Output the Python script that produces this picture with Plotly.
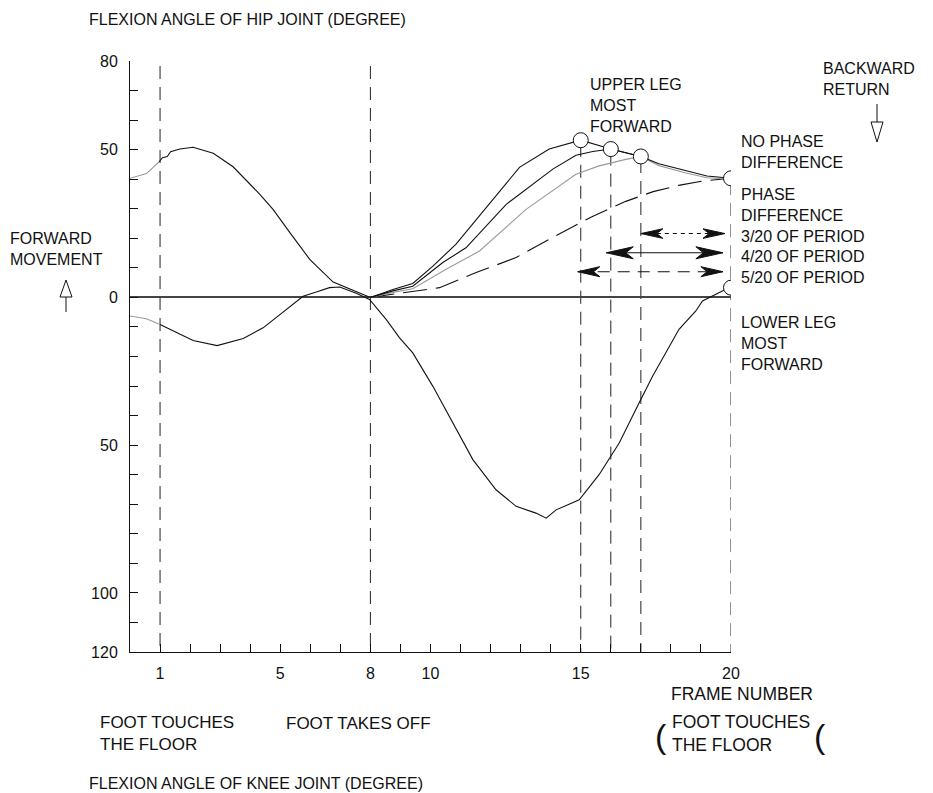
import plotly.graph_objects as go

# ---------------- data (frame number, flexion angle in degrees; knee drawn negative) -------------
hip_lead_frames = [0, 0.55, 0.97]
hip_lead_angle = [40.3, 41.9, 45.9]
hip_frames = [0.97, 1.08, 1.24, 1.35, 1.66, 2.10, 2.77, 3.43, 4.32, 4.76, 5.32, 5.98, 6.76, 7.31, 8.0]
hip_angle = [45.9, 47.3, 47.7, 49.3, 50.2, 50.8, 48.8, 44.2, 34.9, 29.8, 21.9, 12.9, 5.2, 2.9, 0.0]

swing5_frames = [8, 8.75, 9.41, 10.08, 10.85, 12.07, 12.96, 13.95, 14.73, 15, 16, 17, 17.6, 18.5, 19.2, 20]
swing5_angle = [0, 2.7, 4.7, 10.6, 18.0, 33.2, 44.0, 50.2, 52.4, 53.2, 50.2, 47.7, 45.2, 42.8, 41.1, 40.3]
swing4_frames = [8, 8.75, 9.41, 10.41, 11.18, 12.52, 14.07, 14.84, 15.4, 16, 17]
swing4_angle = [0, 2.2, 3.8, 11.8, 16.8, 31.5, 43.4, 48.1, 49.4, 50.2, 47.7]
swing3_frames = [8, 8.75, 9.41, 10.52, 11.63, 13.18, 14.84, 15.61, 16.5, 17, 17.6, 18.5, 19.2, 20]
swing3_angle = [0, 1.7, 2.9, 9.5, 15.7, 29.8, 41.7, 44.5, 46.7, 47.7, 44.6, 42.1, 40.5, 40.0]
swing0_frames = [8, 9.0, 10.3, 11.52, 12.85, 13.95, 15.39, 16.5, 17.41, 18.3, 19.07, 20]
swing0_angle = [0, 1.5, 3.3, 8.4, 13.5, 19.7, 27.4, 32.5, 35.8, 38.0, 39.4, 40.3]

knee_lead_frames = [0, 0.55, 1.0]
knee_lead_angle = [-6.3, -7.2, -9.2]
knee_frames = [1.0, 2.1, 2.9, 3.77, 4.43, 4.98, 5.76, 6.2, 6.64, 6.98, 7.53, 7.97, 8.53, 8.97,
               9.41, 10.08, 10.63, 11.41, 12.18, 12.85, 13.51, 13.85, 14.18, 14.95, 15.61,
               16.28, 16.94, 17.39, 18.27, 18.83, 19.05, 19.93]
knee_angle = [-9.2, -14.6, -16.3, -13.9, -10.3, -5.8, 0.4, 1.8, 3.3, 3.5, 1.4, -0.7, -7.5, -13.7,
              -18.8, -30.1, -40.2, -54.9, -65.1, -70.7, -73.0, -74.7, -71.9, -68.5, -60.0,
              -49.3, -35.7, -26.7, -10.8, -4.6, -1.2, 3.3]

peak_frames = [15, 16, 17, 20, 20]
peak_angle = [53.2, 50.2, 47.7, 40.3, 3.3]

event_frames = [1, 8]
phase_frames = [15, 16, 17, 20]
phase_line_top = [52.0, 49.0, 46.5, 39.0]

arrow_left = [17.0, 15.85, 14.9]
arrow_right = [19.8, 19.73, 19.73]
arrow_level = [21.6, 15.1, 8.7]

y_tickvals = [80, 50, 0, -50, -100, -120]
y_ticktext = ["80", "50", "0", "50", "100", "120"]
x_tickvals = [1, 5, 8, 10, 15, 20]
x_ticktext = ["1", "5", "8", "10", "15", "20"]

# ---------------- layout geometry ----------------
OFF = 8                      # page body margin of the browser
W, H = 933 - OFF, 793 - OFF
L, T = 130 - OFF, 61 - OFF
PW, PH = 601, 591
R, B = W - L - PW, H - T - PH


def px(x):
    return (x - OFF - L) / PW


def py(y):
    return (T + PH - (y - OFF)) / PH


BLACK = "#111111"
GRAY = "#9a9a9a"
FONT = "Liberation Sans, Arial, sans-serif"

fig = go.Figure()

def line(x, y, color=BLACK, dash=None, width=1.1):
    fig.add_trace(go.Scatter(x=x, y=y, mode="lines", hoverinfo="skip",
                             line=dict(color=color, width=width, dash=dash)))

line(hip_lead_frames, hip_lead_angle, GRAY)
line(hip_frames, hip_angle)
line(knee_lead_frames, knee_lead_angle, GRAY)
line(knee_frames, knee_angle)
line(swing0_frames, swing0_angle, BLACK, "24px,9px")
line(swing3_frames, swing3_angle, GRAY)
line(swing4_frames, swing4_angle)
line(swing5_frames, swing5_angle)

fig.add_trace(go.Scatter(x=peak_frames, y=peak_angle, mode="markers", hoverinfo="skip",
                         marker=dict(size=15, color="white", line=dict(color=BLACK, width=1))))

shapes = []
for f in event_frames:
    shapes.append(dict(type="line", xref="x", yref="y", x0=f, x1=f, y0=78.3, y1=-120,
                       line=dict(color="#222", width=1, dash="13px,8px"), layer="below"))
for f, top in zip(phase_frames, phase_line_top):
    shapes.append(dict(type="line", xref="x", yref="y", x0=f, x1=f, y0=top, y1=-120,
                       line=dict(color="#222", width=1, dash="13px,8px"), layer="below"))

arrow_dash = ["4px,4px", "solid", "12px,8px"]
head_len = [22, 27, 22]
head_w = [4.8, 6, 5]
for xl, xr, lv, d, hl, hw in zip(arrow_left, arrow_right, arrow_level, arrow_dash, head_len, head_w):
    shapes.append(dict(type="line", xref="x", yref="y", x0=xl, x1=xr, y0=lv, y1=lv,
                       line=dict(color=BLACK, width=1.1, dash=d)))
    shapes.append(dict(type="path", xref="x", yref="y", xsizemode="pixel", ysizemode="pixel",
                       xanchor=xl, yanchor=lv,
                       path=f"M0,0 L{hl},{hw} L{hl*0.72},0 L{hl},{-hw} Z",
                       fillcolor=BLACK, line=dict(color=BLACK, width=1)))
    shapes.append(dict(type="path", xref="x", yref="y", xsizemode="pixel", ysizemode="pixel",
                       xanchor=xr, yanchor=lv,
                       path=f"M0,0 L{-hl},{hw} L{-hl*0.72},0 L{-hl},{-hw} Z",
                       fillcolor=BLACK, line=dict(color=BLACK, width=1)))

# hollow direction arrows
shapes.append(dict(type="path", xref="paper", yref="paper", xsizemode="pixel", ysizemode="pixel",
                   xanchor=px(66), yanchor=py(297),
                   path="M-6,0 L6,0 L0,17 Z M0,0 L0,-15",
                   fillcolor="rgba(0,0,0,0)", line=dict(color=BLACK, width=1)))
shapes.append(dict(type="path", xref="paper", yref="paper", xsizemode="pixel", ysizemode="pixel",
                   xanchor=px(877), yanchor=py(122),
                   path="M0,0 L0,18 M-6,0 L6,0 L0,-20 Z",
                   fillcolor="rgba(0,0,0,0)", line=dict(color=BLACK, width=1)))

annotations = []

def text(t, x, y, size=16):
    annotations.append(dict(text=t, xref="paper", yref="paper", x=px(x), y=py(y),
                            xanchor="left", yanchor="middle", align="left", showarrow=False,
                            font=dict(family=FONT, size=size, color=BLACK)))

text("FLEXION ANGLE OF HIP JOINT (DEGREE)", 87, 20)
text("BACKWARD<br>RETURN", 821, 79)
text("UPPER LEG<br>MOST<br>FORWARD", 588, 105)
text("NO PHASE<br>DIFFERENCE", 739, 152)
text("PHASE<br>DIFFERENCE<br>3/20 OF PERIOD<br>4/20 OF PERIOD<br>5/20 OF PERIOD", 739, 236)
text("LOWER LEG<br>MOST<br>FORWARD", 739, 343)
text("FORWARD<br>MOVEMENT", 8, 249)
text("FRAME NUMBER", 669, 694, 17.5)
text("FOOT TOUCHES<br>THE FLOOR", 98, 733, 17)
text("FOOT TAKES OFF", 284, 723, 17)
text("FOOT TOUCHES<br>THE FLOOR", 670, 733, 17.5)
text("(", 653, 736, 34)
text("(", 812, 736, 34)
text("FLEXION ANGLE OF KNEE JOINT (DEGREE)", 87, 783)

fig.update_layout(
    width=W, height=H,
    margin=dict(l=L, r=R, t=T, b=B, pad=0),
    paper_bgcolor="white", plot_bgcolor="white",
    showlegend=False,
    font=dict(family=FONT, size=16, color=BLACK),
    shapes=shapes, annotations=annotations,
    xaxis=dict(range=[0, 20], showgrid=False, zeroline=False, showline=True,
               linecolor=BLACK, linewidth=1, mirror=False,
               ticks="inside", ticklen=8, tickcolor=BLACK, tickwidth=1,
               tickvals=x_tickvals, ticktext=x_ticktext, ticklabelstandoff=7,
               minor=dict(dtick=1, tick0=0, ticks="inside", ticklen=8, tickcolor=BLACK, tickwidth=1)),
    yaxis=dict(range=[-120, 80], showgrid=False, zeroline=True, zerolinecolor="#444",
               zerolinewidth=1.5, showline=True, linecolor=BLACK, linewidth=1,
               ticks="inside", ticklen=8, tickcolor=BLACK, tickwidth=1,
               tickvals=y_tickvals, ticktext=y_ticktext, ticklabelstandoff=8,
               minor=dict(dtick=10, tick0=0, ticks="inside", ticklen=8, tickcolor=BLACK, tickwidth=1)),
)

fig.write_html("out.html")
